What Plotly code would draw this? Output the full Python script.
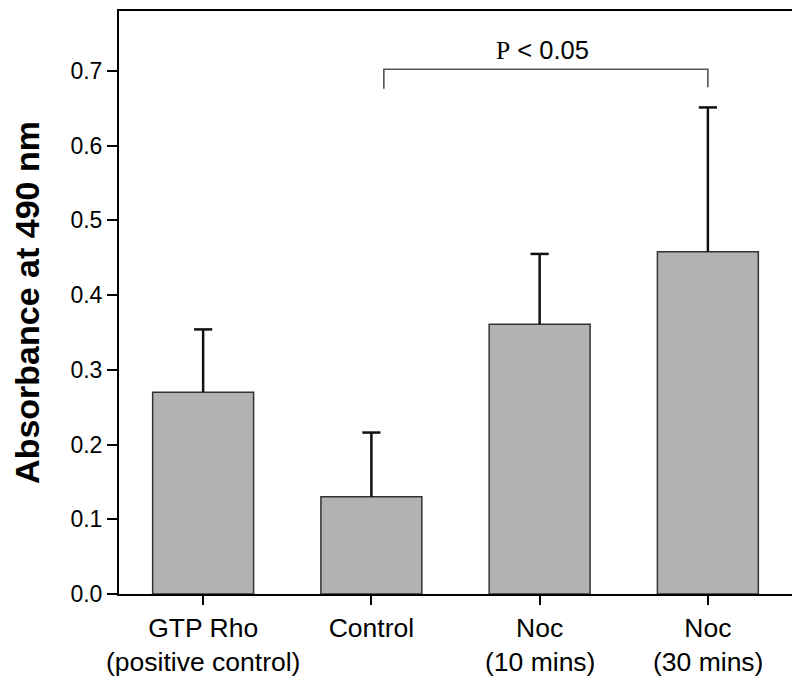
import plotly.graph_objects as go

# data
label_line1 = ["GTP Rho", "Control", "Noc", "Noc"]
label_line2 = ["(positive control)", "", "(10 mins)", "(30 mins)"]
absorbance = [0.270, 0.130, 0.361, 0.458]
err_upper = [0.084, 0.086, 0.094, 0.193]
y_ticks = [0.0, 0.1, 0.2, 0.3, 0.4, 0.5, 0.6, 0.7]

# significance bracket (Control vs Noc 30 mins)
brk_x0, brk_x1 = 1.074, 3.0
brk_top, brk_left_end, brk_right_end = 0.702, 0.676, 0.678
p_text = "<span style='font-family:Liberation Serif'>P</span> &lt; 0.05"

xpos = list(range(len(label_line1)))
cap = 0.054  # half cap width in category units

fig = go.Figure()
fig.add_trace(go.Bar(
    x=xpos, y=absorbance,
    marker=dict(color="#b2b2b2", line=dict(color="#333333", width=1.5)),
    width=0.6,
    hoverinfo="none",
))

# upper-only error bars: stem from the bar top plus a cap, no lower cap
sx, sy, cx, cy = [], [], [], []
for xi, v, e in zip(xpos, absorbance, err_upper):
    sx += [xi, xi, None]
    sy += [v, v + e, None]
    cx += [xi - cap, xi + cap, None]
    cy += [v + e, v + e, None]
fig.add_trace(go.Scatter(x=sx, y=sy, mode="lines", line=dict(color="#111111", width=2.5),
                         hoverinfo="none"))
fig.add_trace(go.Scatter(x=cx, y=cy, mode="lines", line=dict(color="#111111", width=2.5),
                         hoverinfo="none"))

fig.add_shape(type="path",
              path="M %f,%f L %f,%f L %f,%f L %f,%f" % (brk_x0, brk_left_end, brk_x0, brk_top,
                                                        brk_x1, brk_top, brk_x1, brk_right_end),
              line=dict(color="#555555", width=1.6), xref="x", yref="y")

fig.add_annotation(x=2.02, y=0.727, text=p_text, showarrow=False,
                   font=dict(family="Liberation Sans", size=25.5, color="black"),
                   xref="x", yref="y")

# second line of the category labels
for xi, txt in zip(xpos, label_line2):
    if txt:
        fig.add_annotation(x=xi, y=0, xref="x", yref="paper", text=txt, showarrow=False,
                           yanchor="middle", yshift=-68,
                           font=dict(family="Liberation Sans", size=26.5, color="black"))

fig.update_layout(
    width=800, height=687,
    margin=dict(l=111, r=16, t=1, b=101),
    plot_bgcolor="white", paper_bgcolor="white",
    showlegend=False,
    font=dict(family="Liberation Sans", color="black"),
)
fig.update_xaxes(
    range=[-0.5, 3.5], tickvals=xpos, ticktext=label_line1,
    ticks="outside", ticklen=9, tickwidth=2, tickcolor="black",
    showline=True, linecolor="black", linewidth=2, mirror=True,
    showgrid=False, zeroline=False,
    tickfont=dict(size=26.5, color="black"),
)
fig.update_yaxes(
    range=[0, 0.78], tickvals=y_ticks, ticktext=["%.1f" % v for v in y_ticks],
    ticks="outside", ticklen=10, tickwidth=2, tickcolor="black",
    showline=True, linecolor="black", linewidth=2, mirror=True,
    showgrid=False, zeroline=False,
    tickfont=dict(size=23, color="black"),
    title=dict(text="<b>Absorbance at 490 nm</b>", font=dict(size=34, color="black"), standoff=26),
)

fig.write_html("out.html")
